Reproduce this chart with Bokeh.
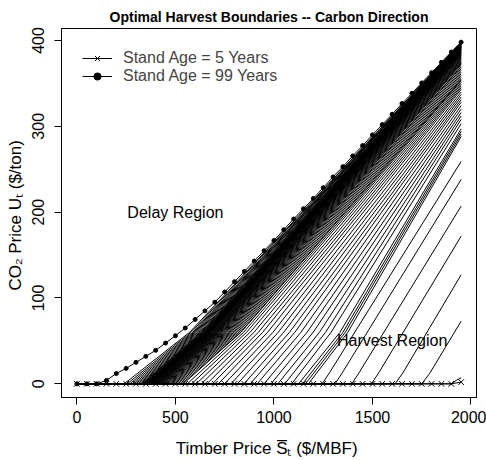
from bokeh.plotting import figure
from bokeh.models import Range1d, Label, Legend, LegendItem, FixedTicker
from bokeh.embed import file_html
from bokeh.resources import INLINE

# ---------------- data ----------------
S_GRID = [0, 50, 100, 150, 200, 250, 300, 350, 400, 450, 500, 550, 600, 650, 700,
          750, 800, 850, 900, 950, 1000, 1050, 1100, 1150, 1200, 1250, 1300, 1350,
          1400, 1450, 1500, 1550, 1600, 1650, 1700, 1750, 1800, 1850, 1900, 1950]

AGE5_U = [0] * 39 + [2]

AGE99_U = [0, 0, 0, 4, 12, 18, 25, 32, 39, 47.5, 56, 65, 75, 85, 95,
           107, 119, 131, 143, 155, 167, 179.5, 192, 204, 216, 228.5, 241, 253,
           265.5, 277.5, 290, 302, 314, 326.5, 338.5, 350.5, 362.5, 374.5, 386.5, 398]

# boundaries for stand ages 6 .. 98: where U leaves 0, a bend point, and U at the last price
START_S = [1900, 1750, 1615, 1495, 1395, 1310, 1245,
           1175, 1160, 1145, 1125, 1090, 1055, 1020, 985, 950, 915, 880, 848, 815, 782,
           750, 718, 688, 660, 632, 606, 582, 560, 540,
           532, 522, 513, 505, 497, 490, 483, 476, 470, 464,
           458, 453, 448, 443, 438, 434, 430, 426, 422, 418,
           415, 412, 409, 406, 403, 400, 397, 394, 391, 388,
           385, 382, 380, 378, 376, 374, 372, 370, 368, 366,
           364, 362, 360, 358, 356, 354, 352, 350, 347, 344,
           341, 338, 334, 330, 325,
           318, 310, 301, 291, 280, 268, 255, 240]

KNEE_S = [1925, 1790, 1655, 1535, 1435, 1350, 1285,
          1375, 1362, 1350, 1335, 1290, 1262, 1231, 1199, 1168, 1137, 1106, 1079, 1050, 1022,
          995, 968, 943, 921, 899, 879, 861, 846, 833,
          830, 821, 813, 805, 797, 790, 783, 776, 770, 764,
          758, 753, 748, 743, 738, 734, 730, 726, 722, 718,
          715, 712, 709, 706, 703, 700, 697, 694, 691, 688,
          685, 682, 680, 678, 676, 674, 672, 670, 668, 666,
          664, 662, 660, 658, 656, 654, 652, 650, 647, 644,
          641, 638, 634, 630, 625,
          618, 612, 606, 600, 594, 588, 580, 572]

KNEE_U = [4, 12, 13, 14, 14, 14, 14] + [60] * 86

END_U = [7, 73, 127, 172, 207, 238, 259,
         288, 291, 294, 297,
         303, 308, 312, 316, 320, 324, 328, 331, 334, 337, 340, 343, 345, 347, 349, 351,
         353, 354, 355,
         357, 359, 361, 363, 365, 367, 369, 370, 372, 373,
         374, 375, 376, 377, 378, 379, 380, 381, 382, 383,
         383, 384, 385, 385, 386, 386, 387, 387, 388, 388,
         389, 389, 390, 390, 390, 391, 391, 391, 392, 392,
         392, 393, 393, 393, 394, 394, 394, 394, 395, 395,
         395, 395, 396, 396, 396,
         396, 397, 397, 397, 397, 397, 398, 398]

X_TICKS = [0, 500, 1000, 1500, 2000]
Y_TICKS = [0, 100, 200, 300, 400]

TITLE = "Optimal Harvest Boundaries -- Carbon Direction"
LEGEND_LABELS = ["Stand Age = 5 Years", "Stand Age = 99 Years"]
REGION_TEXT = ["Delay Region", "Harvest Region"]
REGION_S = [500, 1600]
REGION_U = [200, 50]

FONT = "Liberation Sans"

# ---------------- figure ----------------
p = figure(width=486, height=460, output_backend="svg", toolbar_location=None,
           x_range=Range1d(-78, 2028), y_range=Range1d(-15.92, 413.92),
           min_border_left=61, min_border_right=10, min_border_top=28, min_border_bottom=62)
p.background_fill_color = "white"
p.border_fill_color = "white"
p.outline_line_color = "black"
p.outline_line_width = 1
p.xgrid.visible = False
p.ygrid.visible = False

p.title.text = TITLE
p.title.align = "center"
p.title.text_font = FONT
p.title.text_font_size = "14px"
p.title.text_font_style = "bold"
p.title.text_color = "black"
p.title.standoff = 8

for ax in (p.xaxis[0], p.yaxis[0]):
    ax.major_tick_in = 0
    ax.major_tick_out = 7
    ax.minor_tick_line_color = None
    ax.axis_line_color = "black"
    ax.major_tick_line_color = "black"
    ax.major_label_text_font = FONT
    ax.major_label_text_font_size = "16px"
    ax.major_label_text_color = "black"
    ax.axis_label_text_font = FONT
    ax.axis_label_text_font_size = "17px"
    ax.axis_label_text_font_style = "normal"
    ax.axis_label_text_color = "black"

p.xaxis.ticker = FixedTicker(ticks=X_TICKS)
p.yaxis.ticker = FixedTicker(ticks=Y_TICKS)
p.xaxis.major_label_standoff = 6
p.yaxis.major_label_standoff = 10
p.yaxis.major_label_orientation = "vertical"
p.xaxis.axis_label = "Timber Price S\u0305\u209c  ($/MBF)"
p.yaxis.axis_label = "CO\u2082 Price U\u209c  ($/ton)"
p.xaxis.axis_label_standoff = 13
p.yaxis.axis_label_standoff = 5

# boundary lines for intermediate ages
xs, ys = [], []
for s0, sk, uk, ue in zip(START_S, KNEE_S, KNEE_U, END_U):
    xs.append([S_GRID[0], s0, sk, S_GRID[-1]])
    ys.append([0, 0, uk, ue])
p.multi_line(xs, ys, line_color="black", line_width=1)

# age 5 and age 99
l5 = p.line(S_GRID, AGE5_U, line_color="black", line_width=1)
m5 = p.scatter(S_GRID, AGE5_U, marker="x", size=8, line_color="black", line_width=1)
l99 = p.line(S_GRID, AGE99_U, line_color="black", line_width=1)
m99 = p.scatter(S_GRID, AGE99_U, marker="circle", size=4, fill_color="black", line_color="black")

legend = Legend(items=[LegendItem(label=LEGEND_LABELS[0], renderers=[l5, m5]),
                       LegendItem(label=LEGEND_LABELS[1], renderers=[l99, m99])],
                location="top_left", border_line_alpha=0, background_fill_alpha=0,
                label_text_font=FONT, label_text_font_size="16px",
                glyph_width=30, glyph_height=18, label_height=18, spacing=0,
                padding=0, margin=21, label_standoff=11)
p.add_layout(legend)

for t, sx, uy in zip(REGION_TEXT, REGION_S, REGION_U):
    p.add_layout(Label(x=sx, y=uy, text=t, text_align="center", text_baseline="middle",
                       text_font=FONT, text_font_size="16px", text_color="black"))

open("out.html", "w").write(file_html(p, INLINE))
